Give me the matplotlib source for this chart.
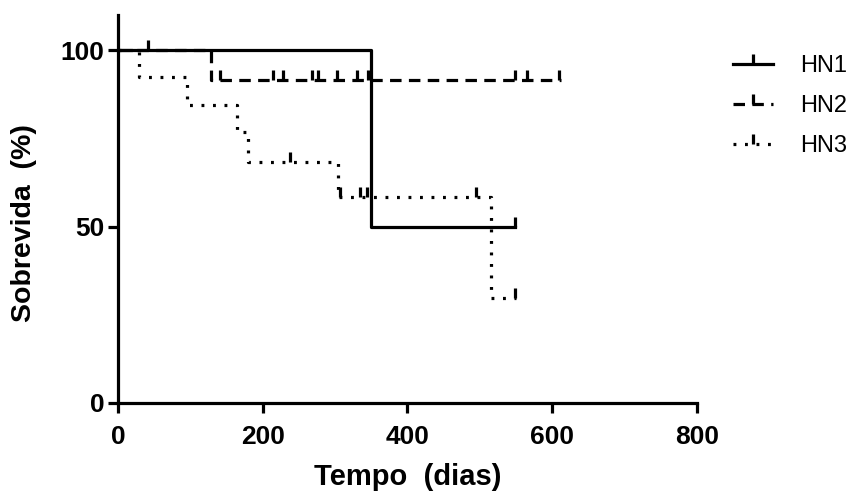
import numpy as np
import matplotlib
matplotlib.use('Agg')
import matplotlib.pyplot as plt
from matplotlib.lines import Line2D

plt.rcParams['font.family'] = ['Liberation Sans', 'DejaVu Sans']

# survival curves (step times in days, survival in %)
hn1_t = [0, 350, 548]
hn1_s = [100, 50, 50]
hn1_cens = [41, 548]

hn2_t = [0, 128, 612]
hn2_s = [100, 91.7, 91.7]
hn2_cens = [141, 214, 228, 268, 276, 302, 330, 345, 548, 565, 610]

hn3_t = [0, 29, 95, 164, 180, 304, 516, 550]
hn3_s = [100, 92.3, 84.6, 76.9, 68.4, 58.4, 29.9, 29.9]
hn3_cens = [238, 307, 334, 344, 495, 548]

labels = ['HN1', 'HN2', 'HN3']
x_ticks = [0, 200, 400, 600, 800]
y_ticks = [0, 50, 100]


def surv_at(t, times, surv):
    idx = np.searchsorted(times, t, side='right') - 1
    return np.array(surv)[idx]


fig = plt.figure(figsize=(8.56, 4.93), dpi=100)
ax = fig.add_axes([0.138, 0.1826, 0.676, 0.787])

lw = 2.3
styles = [dict(ls='-'), dict(ls=(0, (3.6, 2.3))), dict(ls=(0, (0.9, 2.7)))]
series = [(hn1_t, hn1_s, hn1_cens), (hn2_t, hn2_s, hn2_cens), (hn3_t, hn3_s, hn3_cens)]

handles = []
for (t, s, c), st, lab in zip(series, styles, labels):
    ax.step(t, s, where='post', color='black', lw=lw, **st)
    ax.plot(c, surv_at(c, t, s), ls='none', marker=2, ms=7, mew=2.3, color='black')
    handles.append(Line2D([], [], color='black', lw=lw, marker=2, ms=7, mew=2.3, **st))

ax.set_xlim(0, 800)
ax.set_ylim(0, 110)
ax.set_xticks(x_ticks)
ax.set_yticks(y_ticks)
ax.spines['top'].set_visible(False)
ax.spines['right'].set_visible(False)
for sp in ['left', 'bottom']:
    ax.spines[sp].set_linewidth(2.3)
ax.tick_params(direction='out', length=7, width=2.3, labelsize=19)
ax.tick_params(axis='x', pad=9)
ax.tick_params(axis='y', pad=3)
for lbl in ax.get_xticklabels() + ax.get_yticklabels():
    lbl.set_fontweight('bold')

ax.set_xlabel('Tempo  (dias)', fontsize=21, fontweight='bold', labelpad=10)
ax.set_ylabel('Sobrevida  (%)', fontsize=20.5, fontweight='bold')
ax.yaxis.set_label_coords(-0.14, 0.464)

ax.legend(handles, labels, loc='upper left', bbox_to_anchor=(1.025, 0.952), frameon=False,
          fontsize=17, handlelength=1.7, handletextpad=1.15, labelspacing=0.77)

fig.savefig('out.png', dpi=100)
